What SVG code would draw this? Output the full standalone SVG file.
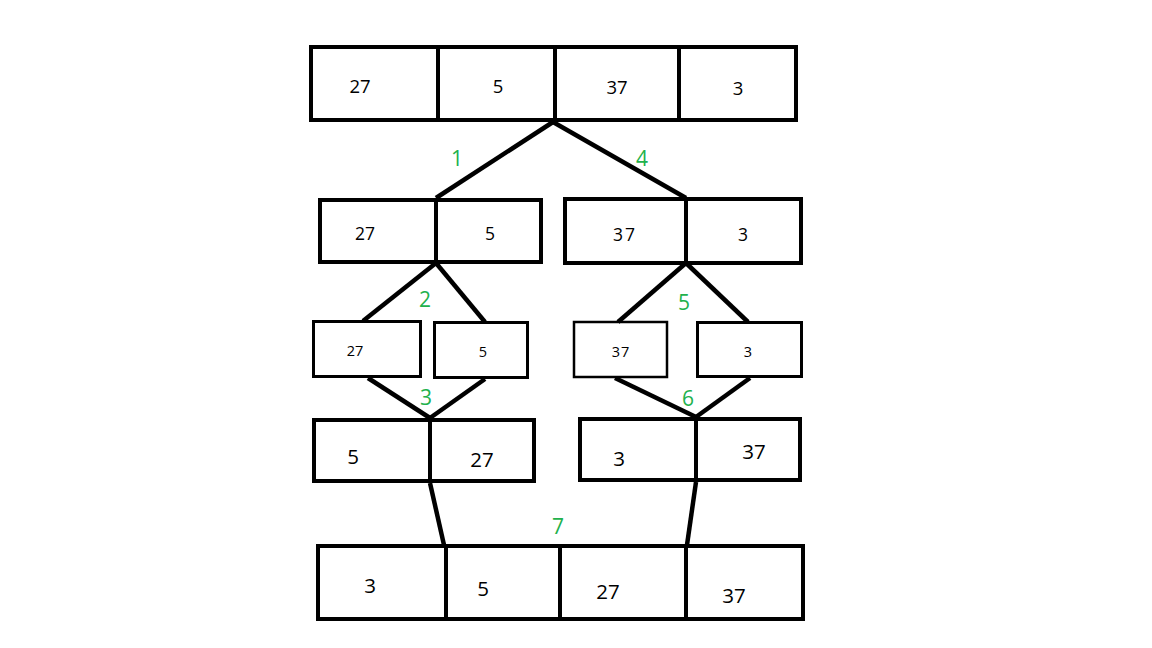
<svg xmlns="http://www.w3.org/2000/svg" width="1152" height="648" viewBox="0 0 1152 648">
<style>
.box{fill:none;stroke:#000;stroke-width:4}
.thin{stroke-width:3}
.thinner{stroke-width:2.5}
.div{stroke:#000;stroke-width:4}
.edge{stroke:#000;stroke-width:4.5;fill:none;stroke-linecap:butt}
.t{font-family:"Open Sans","Noto Sans","DejaVu Sans",sans-serif;fill:#000;text-anchor:middle}
.g{font-family:"Open Sans","Noto Sans","DejaVu Sans",sans-serif;fill:#22b14c;text-anchor:middle;font-size:21px}
</style>
<rect width="1152" height="648" fill="#fff"/>
<g id="connectors">
<line class="edge" x1="553" y1="122" x2="436" y2="198"/>
<line class="edge" x1="553" y1="122" x2="686" y2="198"/>
<line class="edge" x1="436" y1="263" x2="363" y2="321"/>
<line class="edge" x1="436" y1="263" x2="485" y2="322"/>
<line class="edge" x1="686" y1="263" x2="618" y2="322"/>
<line class="edge" x1="686" y1="263" x2="748" y2="322"/>
<line class="edge" x1="368" y1="378" x2="430" y2="418"/>
<line class="edge" x1="485" y1="379" x2="430" y2="418"/>
<line class="edge" x1="615" y1="378" x2="696" y2="417"/>
<line class="edge" x1="750" y1="378" x2="696" y2="417"/>
<line class="edge" x1="430" y1="483" x2="444" y2="545"/>
<line class="edge" x1="696" y1="482" x2="687" y2="545"/>
<text class="g" x="457" y="166">1</text>
<text class="g" x="642" y="166">4</text>
<text class="g" x="425" y="307">2</text>
<text class="g" x="684" y="310">5</text>
<text class="g" x="426" y="405">3</text>
<text class="g" x="688" y="406">6</text>
<text class="g" x="558" y="534">7</text>
</g>
<g id="top-array">
<rect class="box" x="311" y="47" width="485" height="73"/>
<line class="div" x1="438" y1="47" x2="438" y2="120"/>
<line class="div" x1="555" y1="47" x2="555" y2="120"/>
<line class="div" x1="679" y1="47" x2="679" y2="120"/>
<text class="t" x="360" y="93" font-size="18.5">27</text>
<text class="t" x="498" y="93" font-size="18.5">5</text>
<text class="t" x="617" y="94" font-size="18.5">37</text>
<text class="t" x="738" y="95" font-size="18.5">3</text>
</g>
<g id="left-half">
<rect class="box" x="320" y="200" width="221" height="62"/>
<line class="div" x1="436" y1="200" x2="436" y2="262"/>
<text class="t" x="365" y="240" font-size="17.5">27</text>
<text class="t" x="490" y="240" font-size="17.5">5</text>
</g>
<g id="right-half">
<rect class="box" x="565" y="199" width="236" height="64"/>
<line class="div" x1="686" y1="199" x2="686" y2="263"/>
<text class="t" x="625" y="241" font-size="17.5" letter-spacing="2">37</text>
<text class="t" x="743" y="241" font-size="17.5">3</text>
</g>
<g id="leaf-27">
<rect class="box thin" x="313.5" y="321.5" width="107" height="55"/>
<text class="t" x="355" y="356" font-size="14.5">27</text>
</g>
<g id="leaf-5">
<rect class="box thin" x="434.5" y="322.5" width="93" height="55"/>
<text class="t" x="483" y="357" font-size="14.5">5</text>
</g>
<g id="leaf-37">
<rect class="box thinner" x="574" y="322" width="93" height="55"/>
<text class="t" x="621" y="357" font-size="14.5" letter-spacing="1">37</text>
</g>
<g id="leaf-3">
<rect class="box thin" x="697.5" y="322.5" width="104" height="54"/>
<text class="t" x="748" y="357" font-size="14.5">3</text>
</g>
<g id="merged-left">
<rect class="box" x="314" y="420" width="220" height="61"/>
<line class="div" x1="430" y1="420" x2="430" y2="481"/>
<text class="t" x="353" y="464" font-size="20.5">5</text>
<text class="t" x="482" y="467" font-size="20.5">27</text>
</g>
<g id="merged-right">
<rect class="box" x="580" y="419" width="220" height="61"/>
<line class="div" x1="696" y1="419" x2="696" y2="480"/>
<text class="t" x="619" y="466" font-size="20.5">3</text>
<text class="t" x="754" y="459" font-size="20.5">37</text>
</g>
<g id="sorted-array">
<rect class="box" x="318" y="546" width="485" height="73"/>
<line class="div" x1="446" y1="546" x2="446" y2="619"/>
<line class="div" x1="560" y1="546" x2="560" y2="619"/>
<line class="div" x1="686" y1="546" x2="686" y2="619"/>
<text class="t" x="370" y="593" font-size="20.5">3</text>
<text class="t" x="483" y="596" font-size="20.5">5</text>
<text class="t" x="608" y="599" font-size="20.5">27</text>
<text class="t" x="734" y="603" font-size="20.5">37</text>
</g>
</svg>
